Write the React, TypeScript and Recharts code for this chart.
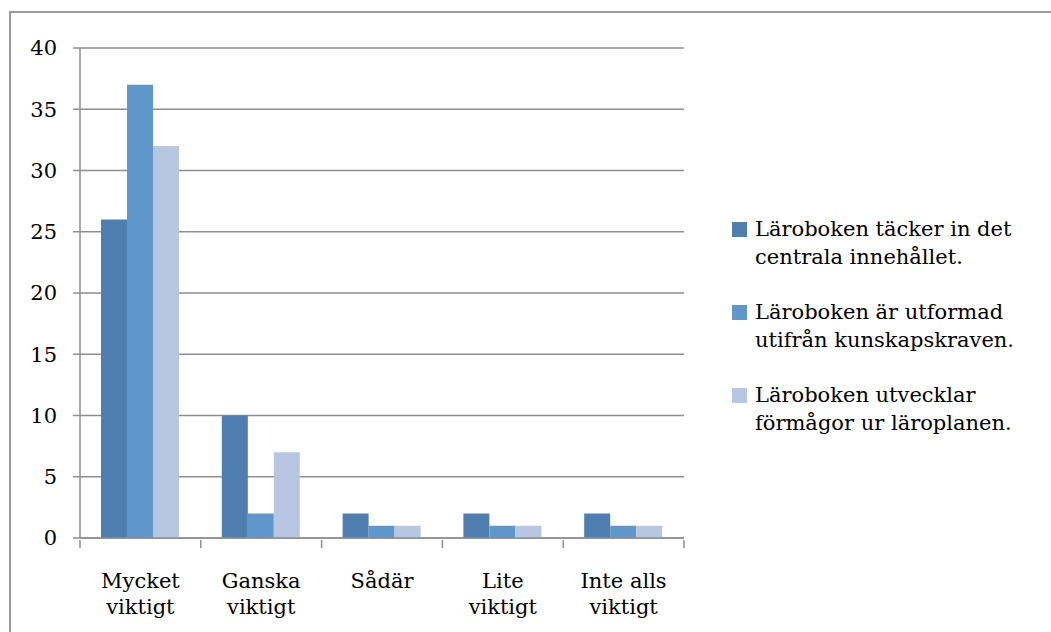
import React from 'react';
import { BarChart, Bar, XAxis, YAxis, CartesianGrid } from 'recharts';

const categories = ['Mycket viktigt', 'Ganska viktigt', 'Sådär', 'Lite viktigt', 'Inte alls viktigt'];
const categoryLines = [['Mycket', 'viktigt'], ['Ganska', 'viktigt'], ['Sådär'], ['Lite', 'viktigt'], ['Inte alls', 'viktigt']];
const innehallet = [26, 10, 2, 2, 2];
const kunskapskraven = [37, 2, 1, 1, 1];
const formagor = [32, 7, 1, 1, 1];
const yTicks = [0, 5, 10, 15, 20, 25, 30, 35, 40];

const seriesNames = [
  ['Läroboken täcker in det', 'centrala innehållet.'],
  ['Läroboken är utformad', 'utifrån kunskapskraven.'],
  ['Läroboken utvecklar', 'förmågor ur läroplanen.'],
];
const seriesColors = ['#4f7eb0', '#5f97cb', '#b8c7e1'];

const data = categories.map((c, i) => ({
  name: c,
  s1: innehallet[i],
  s2: kunskapskraven[i],
  s3: formagor[i],
}));

const FONT = '"DejaVu Serif", serif';
const GRAY = '#8e8e8e';

// two-line category labels, tick marks sit on the category boundaries
const CategoryTick = ({ x, y, payload, index, width, visibleTicksCount }: any) => {
  const lines = categoryLines[index] ?? [payload.value];
  const half = width / visibleTicksCount / 2;
  return (
    <g>
      <line x1={x - half} x2={x - half} y1={y} y2={y + 8} stroke={GRAY} strokeWidth={1.5} />
      {index === visibleTicksCount - 1 && (
        <line x1={x + half} x2={x + half} y1={y} y2={y + 8} stroke={GRAY} strokeWidth={1.5} />
      )}
      <text x={x} y={y} textAnchor="middle" fill="#000" style={{ fontSize: 21, fontFamily: FONT }}>
        {lines.map((l: string, i: number) => (
          <tspan key={i} x={x} dy={i === 0 ? 48 : 26}>
            {l}
          </tspan>
        ))}
      </text>
    </g>
  );
};

export default function App() {
  return (
    <div style={{ position: 'absolute', left: 0, top: 0, width: 1051, height: 632, overflow: 'hidden', background: '#fff' }}>
      <div style={{ position: 'absolute', left: 9, top: 11, width: 1200, height: 800, borderLeft: '2px solid #999', borderTop: '2px solid #999' }} />
      <div style={{ position: 'absolute', left: 0, top: 0 }}>
        <BarChart
          width={1051}
          height={632}
          data={data}
          margin={{ top: 48, right: 367, left: 0, bottom: 0 }}
          barCategoryGap={21}
          barGap={0}
        >
          <CartesianGrid vertical={false} stroke={GRAY} strokeWidth={1.5} />
          <XAxis
            dataKey="name"
            height={94}
            interval={0}
            stroke={GRAY}
            strokeWidth={1.5}
            tickLine={false}
            tickSize={0}
            tick={<CategoryTick />}
          />
          <YAxis
            width={80}
            domain={[0, 40]}
            ticks={yTicks}
            interval={0}
            stroke={GRAY}
            strokeWidth={1.5}
            tickSize={7}
            tickMargin={16}
            tick={{ fill: '#000', fontSize: 21, fontFamily: FONT, style: { fontFamily: FONT } }}
          />
          <Bar dataKey="s1" fill={seriesColors[0]} isAnimationActive={false} />
          <Bar dataKey="s2" fill={seriesColors[1]} isAnimationActive={false} />
          <Bar dataKey="s3" fill={seriesColors[2]} isAnimationActive={false} />
        </BarChart>
      </div>
      <div style={{ position: 'absolute', left: 732, top: 215, fontFamily: FONT, fontSize: 21, color: '#000', lineHeight: '28px' }}>
        {seriesNames.map((lines, i) => (
          <div key={i} style={{ position: 'relative', paddingLeft: 23, marginBottom: 27 }}>
            <span style={{ position: 'absolute', left: 0, top: 7, width: 15, height: 15, background: seriesColors[i] }} />
            {lines.map((l, j) => (
              <div key={j}>{l}</div>
            ))}
          </div>
        ))}
      </div>
    </div>
  );
}
